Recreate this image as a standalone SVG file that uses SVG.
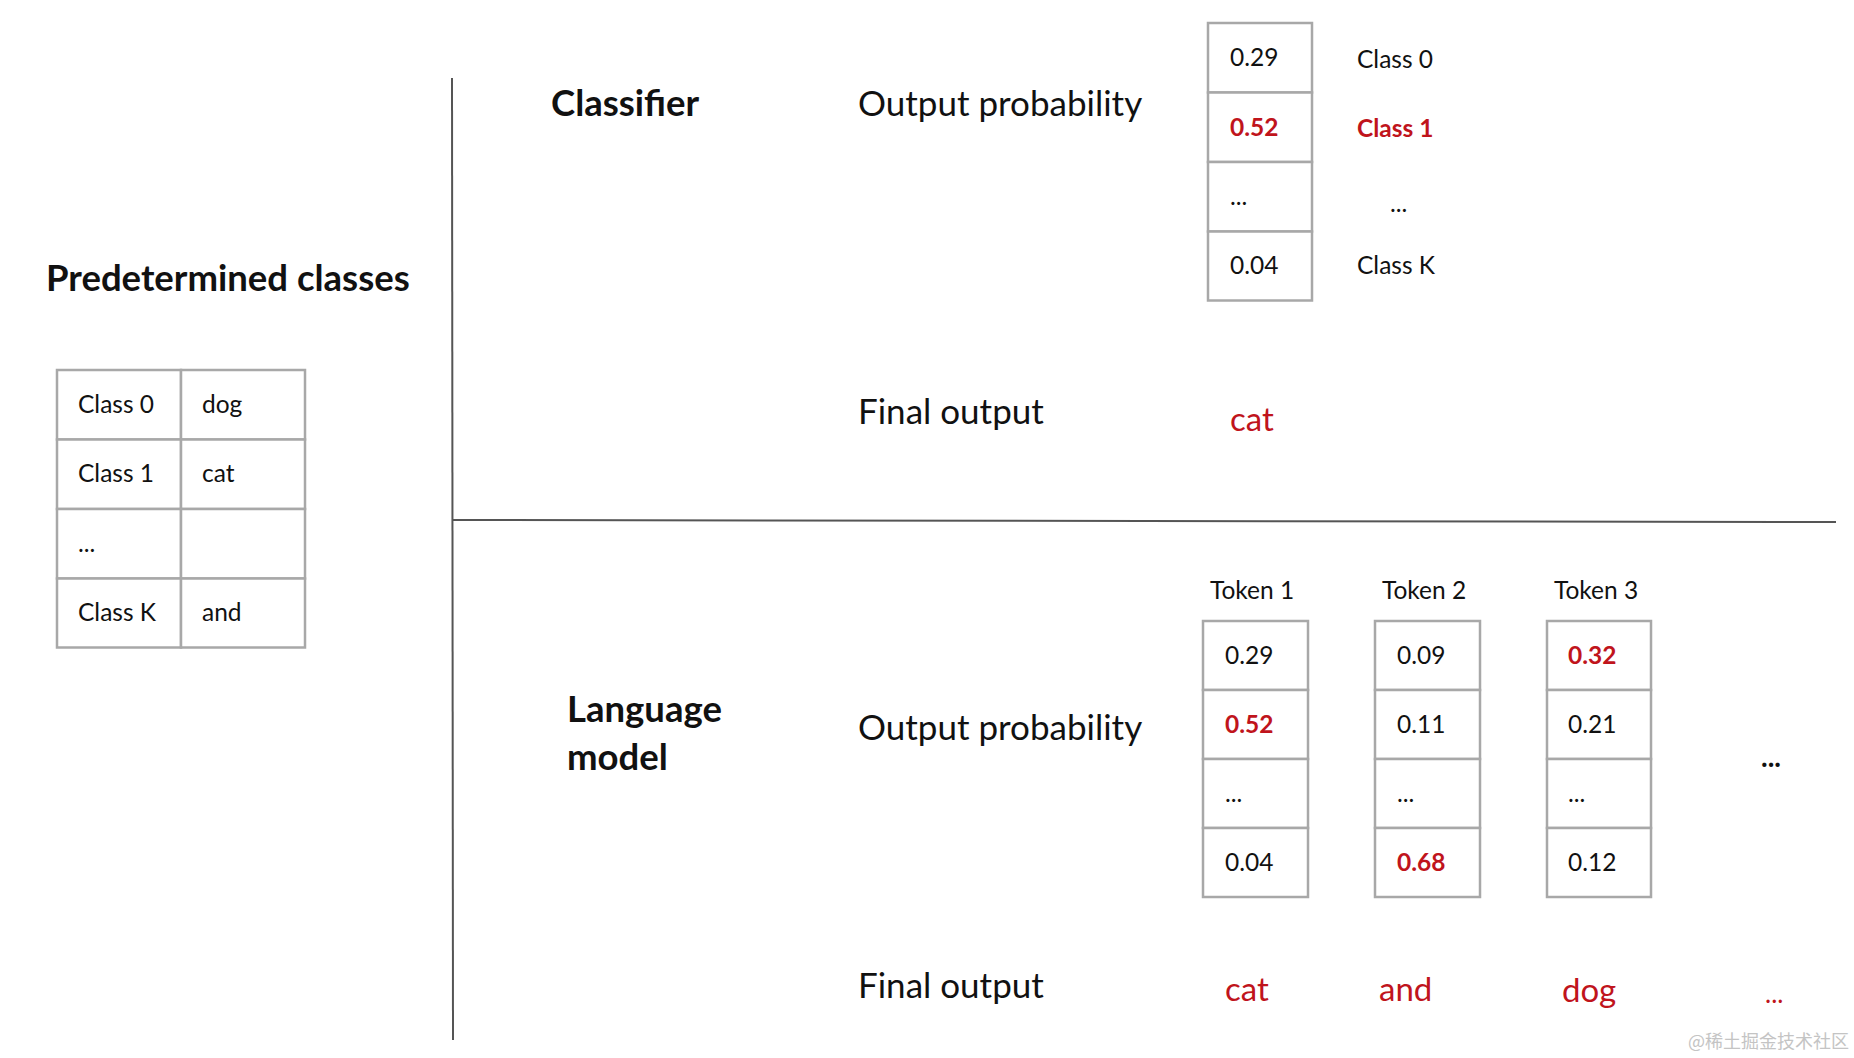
<svg xmlns="http://www.w3.org/2000/svg" width="1854" height="1058" viewBox="0 0 1854 1058">
<style>
text{font-family:Lato,"Noto Sans",sans-serif;fill:#111}
.h{font-weight:bold;font-size:36.5px}
.lbl{font-size:35px}
.c{font-size:24.5px}
.red{fill:#c0141c}
.rb{fill:#c0141c;font-weight:bold}
.cell{fill:#fff;stroke:#a8a8a8;stroke-width:2.5}
.div{stroke:#555;stroke-width:2;fill:none}
.out{font-size:33px;fill:#c0141c}
.wm{font-family:"Noto Sans CJK SC",sans-serif;font-size:18px;fill:#c4c4c4}
</style>
<rect width="1854" height="1058" fill="#fff"/>
<g id="dividers">
<line class="div" x1="452" y1="78" x2="453" y2="1040"/>
<line class="div" x1="453" y1="520" x2="1836" y2="522"/>
</g>
<g id="predetermined">
<text class="h" x="46" y="291">Predetermined classes</text>
<rect class="cell" x="57" y="370" width="124" height="69.5"/>
<rect class="cell" x="181" y="370" width="124" height="69.5"/>
<rect class="cell" x="57" y="439.5" width="124" height="69.5"/>
<rect class="cell" x="181" y="439.5" width="124" height="69.5"/>
<rect class="cell" x="57" y="509" width="124" height="69.5"/>
<rect class="cell" x="181" y="509" width="124" height="69.5"/>
<rect class="cell" x="57" y="578.5" width="124" height="69"/>
<rect class="cell" x="181" y="578.5" width="124" height="69"/>
<text class="c" x="78" y="413">Class 0</text><text class="c" x="202" y="413">dog</text>
<text class="c" x="78" y="482">Class 1</text><text class="c" x="202" y="482">cat</text>
<text class="c" x="78" y="552">...</text>
<text class="c" x="78" y="621">Class K</text><text class="c" x="202" y="621">and</text>
</g>
<g id="classifier">
<text class="h" x="551" y="116">Classifier</text>
<text class="lbl" x="858" y="116">Output probability</text>
<text class="lbl" x="858" y="424">Final output</text>
<text class="out" x="1230" y="431">cat</text>
</g>
<g id="classifier-probs">
<rect class="cell" x="1208" y="23" width="104" height="69.5"/>
<rect class="cell" x="1208" y="92.5" width="104" height="69.5"/>
<rect class="cell" x="1208" y="162" width="104" height="69.5"/>
<rect class="cell" x="1208" y="231.5" width="104" height="69"/>
<text class="c" x="1230" y="66">0.29</text>
<text class="c rb" x="1230" y="136">0.52</text>
<text class="c" x="1230" y="205">...</text>
<text class="c" x="1230" y="274">0.04</text>
<text class="c" x="1357" y="68">Class 0</text>
<text class="c rb" x="1357" y="137">Class 1</text>
<text class="c" x="1390" y="212">...</text>
<text class="c" x="1357" y="274">Class K</text>
</g>
<g id="language-model">
<text class="h" x="567" y="722">Language</text>
<text class="h" x="567" y="770">model</text>
<text class="lbl" x="858" y="740">Output probability</text>
<text class="lbl" x="858" y="998">Final output</text>
</g>
<g id="token1">
<text class="c" x="1210" y="599">Token 1</text>
<rect class="cell" x="1203" y="621" width="105" height="69"/>
<rect class="cell" x="1203" y="690" width="105" height="69"/>
<rect class="cell" x="1203" y="759" width="105" height="69"/>
<rect class="cell" x="1203" y="828" width="105" height="69"/>
<text class="c" x="1225" y="664">0.29</text>
<text class="c rb" x="1225" y="733">0.52</text>
<text class="c" x="1225" y="802">...</text>
<text class="c" x="1225" y="871">0.04</text>
<text class="out" x="1225" y="1001">cat</text>
</g>
<g id="token2">
<text class="c" x="1382" y="599">Token 2</text>
<rect class="cell" x="1375" y="621" width="105" height="69"/>
<rect class="cell" x="1375" y="690" width="105" height="69"/>
<rect class="cell" x="1375" y="759" width="105" height="69"/>
<rect class="cell" x="1375" y="828" width="105" height="69"/>
<text class="c" x="1397" y="664">0.09</text>
<text class="c" x="1397" y="733">0.11</text>
<text class="c" x="1397" y="802">...</text>
<text class="c rb" x="1397" y="871">0.68</text>
<text class="out" x="1379" y="1001">and</text>
</g>
<g id="token3">
<text class="c" x="1554" y="599">Token 3</text>
<rect class="cell" x="1547" y="621" width="104" height="69"/>
<rect class="cell" x="1547" y="690" width="104" height="69"/>
<rect class="cell" x="1547" y="759" width="104" height="69"/>
<rect class="cell" x="1547" y="828" width="104" height="69"/>
<text class="c rb" x="1568" y="664">0.32</text>
<text class="c" x="1568" y="733">0.21</text>
<text class="c" x="1568" y="802">...</text>
<text class="c" x="1568" y="871">0.12</text>
<text class="out" x="1562" y="1002">dog</text>
</g>
<g id="more">
<text x="1761" y="767" style="font-size:28px;font-weight:bold">...</text>
<text x="1765" y="1003" style="font-size:26px" class="red">...</text>
</g>
<text class="wm" x="1688" y="1048">@稀土掘金技术社区</text>
</svg>
